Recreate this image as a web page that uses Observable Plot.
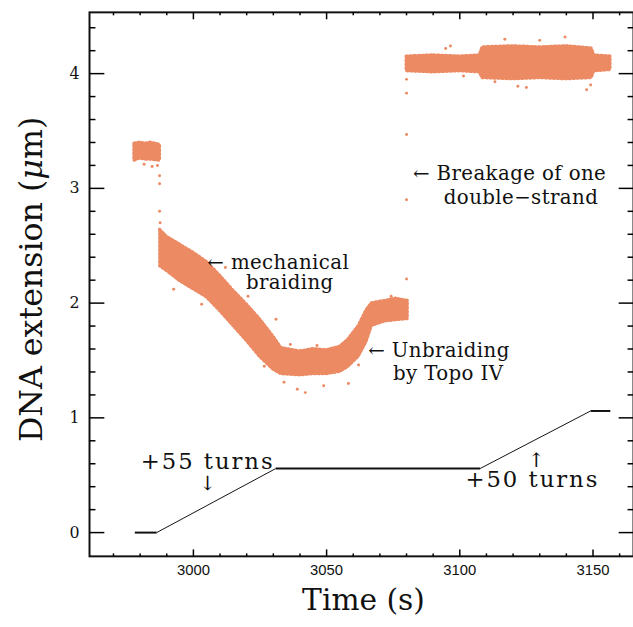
<!DOCTYPE html>
<html><head><meta charset="utf-8">
<script src="https://cdn.jsdelivr.net/npm/d3@7"></script>
<script src="https://cdn.jsdelivr.net/npm/@observablehq/plot@0.6"></script>
<style>
html,body{margin:0;padding:0;background:#fff;overflow:hidden}
#wrap{width:633px;height:627px;overflow:hidden}
</style></head><body><div id="wrap"></div>
<script>
// ---- axis ticks ----
const xMajor = [3000, 3050, 3100, 3150];
const xMinor = [2970, 2980, 2990, 3010, 3020, 3030, 3040, 3060, 3070, 3080, 3090, 3110, 3120, 3130, 3140, 3160];
const yMajor = [0, 1, 2, 3, 4];
const yMinor = [0.2, 0.4, 0.6, 0.8, 1.2, 1.4, 1.6, 1.8, 2.2, 2.4, 2.6, 2.8, 3.2, 3.4, 3.6, 3.8, 4.2, 4.4];

const bandSeg = ["A","A","A","A","A",
  "B","B","B","B","B","B","B","B","B","B","B","B","B","B","B","B","B","B","B","B","B","B",
  "C","C","C","C","C","C","C","C","C","C","C"];
const bandT = [2977.8, 2980, 2982, 2984, 2987.5,
  2987.5, 2990, 2995, 3000, 3005, 3010, 3015, 3020, 3025, 3030, 3033, 3040, 3045, 3050, 3055, 3058, 3062, 3065, 3067, 3072, 3076, 3080.5,
  3080.0, 3090, 3100, 3107.5, 3108.5, 3120, 3130, 3140, 3149.5, 3150.5, 3156.6];
const bandLo = [3.24, 3.26, 3.25, 3.25, 3.24,
  2.32, 2.28, 2.19, 2.12, 2.05, 1.93, 1.80, 1.67, 1.53, 1.42, 1.38, 1.37, 1.38, 1.38, 1.40, 1.44, 1.53, 1.66, 1.80, 1.84, 1.85, 1.86,
  4.02, 4.01, 4.02, 4.01, 3.96, 3.95, 3.96, 3.95, 3.96, 4.02, 4.03];
const bandHi = [3.39, 3.40, 3.39, 3.40, 3.38,
  2.64, 2.58, 2.51, 2.44, 2.36, 2.24, 2.11, 1.99, 1.86, 1.71, 1.61, 1.58, 1.60, 1.59, 1.62, 1.68, 1.80, 1.94, 2.00, 2.02, 2.04, 2.02,
  4.15, 4.16, 4.15, 4.16, 4.23, 4.24, 4.23, 4.24, 4.22, 4.16, 4.15];

// ---- isolated points ----
const ptT = [2984.5, 2981.5, 2986.5,
  2987.3, 2987.3, 2987.3, 2987.5,
  2992.6, 3003.1, 3031.0, 3036.4, 3046.4, 3074.2, 3026.6,
  3039.0, 3042.0, 3048.9, 3058.2, 3034.0, 3062.0, 3012.0, 3020.5,
  3080.0, 3080.0, 3080.0, 3080.0, 3080.0,
  3116.9, 3139.5, 3147.6, 3149.1, 3121.8, 3113.2, 3101.4, 3096.5, 3094.7, 3130.0, 3125.0];
const ptY = [3.19, 3.21, 3.20,
  3.11, 3.04, 2.80, 2.70,
  2.12, 1.99, 1.86, 1.64, 1.63, 2.06, 1.45,
  1.25, 1.22, 1.28, 1.30, 1.31, 1.46, 2.31, 2.06,
  2.21, 2.90, 3.47, 3.83, 3.95,
  4.30, 4.32, 3.86, 3.90, 3.89, 3.93, 3.98, 4.24, 4.22, 4.29, 3.88];

// ---- number of turns (scaled) ----
const turnT = [2978.0, 2986.2, 3030.9, 3107.6, 3149.1, 3156.5];
const turnY = [0, 0, 0.558, 0.558, 1.06, 1.06];

// ---- annotations ----
const annoText = ["← mechanical", "braiding", "← Breakage of one", "double−strand", "← Unbraiding", "by Topo IV"];
const annoT = [3005.2, 3019.7, 3082.4, 3094.0, 3065.6, 3074.9];
const annoY = [2.293, 2.121, 3.072, 2.862, 1.534, 1.333];
const turnText = ["+55 turns", "+50 turns"];
const turnTextT = [2980.2, 3102.1];
const turnTextY = [0.558, 0.399];
const arrowText = ["↓", "↑"];
const arrowT = [3005.3, 3128.7];
const arrowY = [0.371, 0.57];

(function () {
const ORANGE = "#ec8a63";
const INK = "#111";
const WIDTH = 640, HEIGHT = 627, ML = 90, MR = 0, MT = 12, MB = 65;
const X_DOMAIN = [2961.0, 3165.2];
const Y_DOMAIN = [-0.207, 4.534];

const band = bandT.map((t, i) => ({t, lo: bandLo[i], hi: bandHi[i], seg: bandSeg[i]}));
const pts = ptT.map((t, i) => ({t, y: ptY[i]}));
const turnPts = turnT.map((t, i) => ({t, y: turnY[i]}));
const turnSegs = d3.pairs(turnPts).map(([a, b]) => ({ax: a.t, ay: a.y, bx: b.t, by: b.y, w: a.y === b.y ? 2 : 1}));
const annos = annoText.map((s, i) => ({s, t: annoT[i], y: annoY[i]}));
const turnsLab = turnText.map((s, i) => ({s, t: turnTextT[i], y: turnTextY[i]}));
const arrows = arrowText.map((s, i) => ({s, t: arrowT[i], y: arrowY[i]}));

const plot = Plot.plot({
  width: WIDTH, height: HEIGHT,
  marginLeft: ML, marginRight: MR, marginTop: MT, marginBottom: MB,
  x: {domain: X_DOMAIN},
  y: {domain: Y_DOMAIN},
  style: {background: "white", color: INK},
  marks: [
    Plot.areaY(band, {x: "t", y1: "lo", y2: "hi", z: "seg", fill: ORANGE, stroke: ORANGE, strokeWidth: 3, strokeDasharray: "1.5 2.5", strokeLinecap: "round", curve: "linear"}),
    Plot.dot(pts, {x: "t", y: "y", r: 1.5, fill: ORANGE, stroke: null}),
    Plot.link(turnSegs, {x1: "ax", y1: "ay", x2: "bx", y2: "by", strokeWidth: "w", stroke: INK}),
    Plot.frame({stroke: INK, strokeWidth: 2}),
    Plot.axisX(xMajor, {tickSize: 0, tickPadding: 8, tickFormat: d => String(d), fontSize: 15, fontFamily: "Liberation Sans", label: null, fill: INK}),
    Plot.axisY(yMajor, {tickSize: 0, tickPadding: 10, tickFormat: d => String(d), fontSize: 16, fontFamily: "DejaVu Serif", label: null, fill: INK}),
    Plot.text(["Time (s)"], {text: d => d, frameAnchor: "bottom", dx: 2, dy: 54, lineAnchor: "bottom", fontSize: 30, fontFamily: "DejaVu Serif", fill: INK}),
    Plot.text(["DNA extension (μm)"], {text: d => d, frameAnchor: "left", rotate: -90, dx: -48, dy: -5, lineAnchor: "bottom", textAnchor: "middle", fontSize: 32, fontFamily: "DejaVu Serif", fill: INK}),
    Plot.text(annos, {x: "t", y: "y", text: "s", textAnchor: "start", lineAnchor: "bottom", fontSize: 20, fontFamily: "DejaVu Serif", fill: INK}),
    Plot.text(turnsLab, {x: "t", y: "y", text: "s", textAnchor: "start", lineAnchor: "bottom", fontSize: 23, fontFamily: "DejaVu Serif", fill: INK}),
    Plot.text(arrows, {x: "t", y: "y", text: "s", textAnchor: "middle", lineAnchor: "bottom", fontSize: 20, fontFamily: "DejaVu Serif", fill: INK})
  ]
});
d3.select(plot).selectAll("text").each(function () {
  const s = this.textContent;
  if (s === "DNA extension (μm)") {
    this.textContent = "";
    const t = d3.select(this);
    t.append("tspan").text("DNA extension (");
    t.append("tspan").attr("font-style", "italic").text("μ");
    t.append("tspan").text("m)");
  } else if (turnText.includes(s)) {
    this.style.letterSpacing = "2px";
  } else if (annoText.includes(s)) {
    this.style.letterSpacing = "0.4px";
  }
});

// inward ticks on all four sides, placed with Plot's own x / y scales
try {
  const sx = plot.scale("x"), sy = plot.scale("y");
  const pxLeft = sx.apply(X_DOMAIN[0]), pxRight = sx.apply(X_DOMAIN[1]);
  const pxBottom = sy.apply(Y_DOMAIN[0]), pxTop = sy.apply(Y_DOMAIN[1]);
  const tg = d3.select(plot).append("g")
    .attr("stroke", "black").attr("stroke-width", 1.5).attr("fill", "none")
    .attr("transform", "translate(0.5,0.5)");
  const tick = (a, b, c, d) => tg.append("path").attr("d", `M${a},${b}L${c},${d}`);
  for (const [vals, len] of [[xMajor, 7], [xMinor, 3]]) for (const v of vals) {
    const px = sx.apply(v);
    tick(px, pxBottom, px, pxBottom - len);
    tick(px, pxTop, px, pxTop + len);
  }
  for (const [vals, len] of [[yMajor, 15], [yMinor, 6]]) for (const v of vals) {
    const py = sy.apply(v);
    tick(pxLeft, py, pxLeft + len, py);
    tick(pxRight, py, pxRight - len, py);
  }
} catch (e) { console.error(e); }
document.getElementById("wrap").appendChild(plot);
})();
</script></body></html>
